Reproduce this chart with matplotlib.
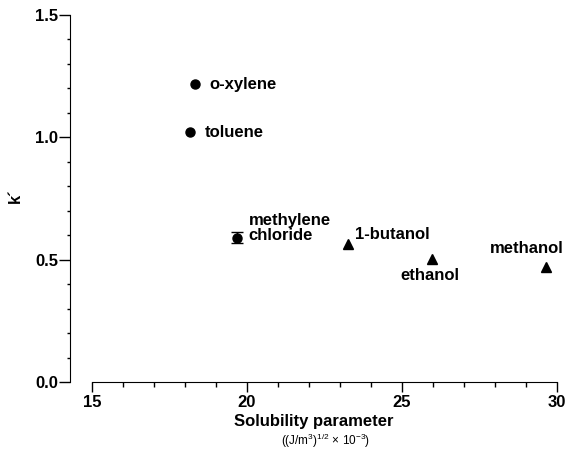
import matplotlib.pyplot as plt
from matplotlib.ticker import MultipleLocator

plt.rcParams['font.family'] = ['Liberation Sans', 'DejaVu Sans']
plt.rcParams['font.weight'] = 'bold'
plt.rcParams['mathtext.default'] = 'regular'

# solvents: solubility parameter vs k'
aromatics = ['o-xylene', 'toluene']
arom_x = [18.32, 18.16]
arom_k = [1.217, 1.02]

mecl_x = [19.68]
mecl_k = [0.59]
mecl_err = [0.022]

alcohols = ['1-butanol', 'ethanol', 'methanol']
alc_x = [23.26, 25.97, 29.65]
alc_k = [0.565, 0.504, 0.47]

fig = plt.figure(figsize=(5.68, 4.5), dpi=100)
ax = fig.add_axes([0.1232, 0.1511, 0.857, 0.8156])

ax.plot(arom_x, arom_k, 'o', color='black', markersize=6.5)
ax.errorbar(mecl_x, mecl_k, yerr=mecl_err, fmt='o', color='black',
            markersize=6.5, capsize=4.5, elinewidth=1, capthick=1)
ax.plot(alc_x, alc_k, '^', color='black', markersize=6.5)

# point labels (offsets in points)
kw = dict(textcoords='offset points', fontsize=12, fontweight='bold', va='center')
ax.annotate(aromatics[0], (arom_x[0], arom_k[0]), xytext=(10.5, 0), ha='left', **kw)
ax.annotate(aromatics[1], (arom_x[1], arom_k[1]), xytext=(10.5, 0), ha='left', **kw)
ax.annotate('methylene\nchloride', (mecl_x[0], mecl_k[0]), xytext=(8.5, 7),
            ha='left', linespacing=1.0, **kw)
ax.annotate(alcohols[0], (alc_x[0], alc_k[0]), xytext=(5, 6.5), ha='left', **kw)
ax.annotate(alcohols[1], (alc_x[1], alc_k[1]), xytext=(-23, -12), ha='left', **kw)
ax.annotate(alcohols[2], (alc_x[2], alc_k[2]), xytext=(-40, 13.5), ha='left', **kw)

ax.set_xlim(14.29, 30.0)
ax.set_ylim(0, 1.5)

ax.spines['top'].set_visible(False)
ax.spines['right'].set_visible(False)
ax.spines['bottom'].set_bounds(15, 30)

ax.xaxis.set_major_locator(MultipleLocator(5))
ax.xaxis.set_minor_locator(MultipleLocator(1))
ax.yaxis.set_major_locator(MultipleLocator(0.5))
ax.yaxis.set_minor_locator(MultipleLocator(0.1))
ax.yaxis.set_major_formatter(plt.FormatStrFormatter('%.1f'))
ax.tick_params(which='both', direction='out', width=1, labelsize=12)
ax.tick_params(axis='x', which='major', length=7, pad=2)
ax.tick_params(axis='x', which='minor', length=3.5)
ax.tick_params(axis='y', which='major', length=8, pad=0.5)
ax.tick_params(axis='y', which='minor', length=2.5)

fig.text(0.027, 0.565, "k\u00b4", rotation=90, ha='center', va='center',
         fontsize=12, fontweight='bold')
ax.set_xlabel('Solubility parameter', fontsize=12, fontweight='bold', labelpad=3)
fig.text(0.573, 0.012, r'((J/m$^3$)$^{1/2}$ $\times$ 10$^{-3}$)', ha='center',
         fontsize=8.5, fontweight='normal')

fig.savefig('out.png', dpi=100)
